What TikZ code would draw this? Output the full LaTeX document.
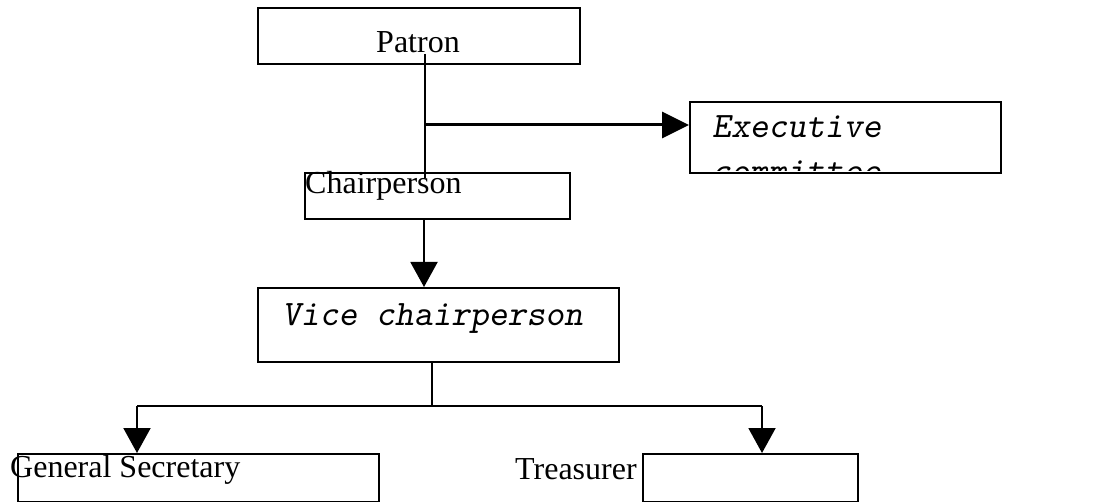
\documentclass[tikz,border=0pt]{standalone}
\usepackage{fontspec}
\setmainfont{Liberation Serif}
\usetikzlibrary{arrows.meta,calc}
\begin{document}
\begin{tikzpicture}[x=1pt,y=-1pt,
 box/.style={draw,line width=2pt,rectangle,inner sep=0pt,anchor=north west},
 lbl/.style={inner sep=0pt,anchor=base west,font=\fontsize{32}{38}\selectfont},
 mlbl/.style={inner sep=0pt,anchor=base west,font=\fontsize{35.8}{40}\selectfont\ttfamily\slshape},
 conn/.style={line width=2pt},
 arr/.style={line width=2pt,-{Triangle[length=25pt,width=27pt]}}]
\fill[white] (0,0) rectangle (1097,502);
\useasboundingbox (0,0) rectangle (1097,502);

% texts clipped inside executive box
\begin{scope}
\clip (689,101) rectangle (1000,171);
\node[mlbl] (tExec) at (712,138) {Executive};
\node[mlbl] (tComm) at (712,183) {committee};
\end{scope}

\node[box,minimum width=322pt,minimum height=56pt] (patron) at (257,7) {};
\node[box,minimum width=265pt,minimum height=46pt] (chair) at (304,172) {};
\node[box,minimum width=361pt,minimum height=74pt] (vice) at (257,287) {};
\node[box,minimum width=311pt,minimum height=71pt] (exec) at (689,101) {};
\node[box,minimum width=361pt,minimum height=48pt] (gs) at (17,453) {};
\node[box,minimum width=215pt,minimum height=48pt] (treas) at (642,453) {};

\node[lbl,anchor=base] (tPatron) at (418,53) {Patron};
\node[lbl] (tChair) at (305,194) {Chairperson};
\node[mlbl] (tVice) at (282,326) {Vice chairperson};
\node[lbl] (tGS) at (10,477) {General Secretary};
\node[lbl] (tTreas) at (515,479) {Treasurer};

% connectors
\coordinate (p1) at (425,54);
\coordinate (p2) at (425,178);
\coordinate (p3) at (425,125);
\draw[conn] (p1) -- (p2);
\draw[line width=3pt,-{Triangle[length=27pt,width=26pt]}] (p3) -- (exec.west |- p3);

\coordinate (c1) at (424,0);
\draw[arr] (c1 |- chair.south) -- (c1 |- vice.north);

\coordinate (v1) at (432,406);
\coordinate (g1) at (137,406);
\coordinate (t1) at (762,406);
\draw[conn] (vice.south -| v1) -- (v1);
\draw[conn] (g1) -- (t1);
\draw[arr] (g1) -- (g1 |- gs.north);
\draw[arr] (t1) -- (t1 |- treas.north);
\end{tikzpicture}
\end{document}
